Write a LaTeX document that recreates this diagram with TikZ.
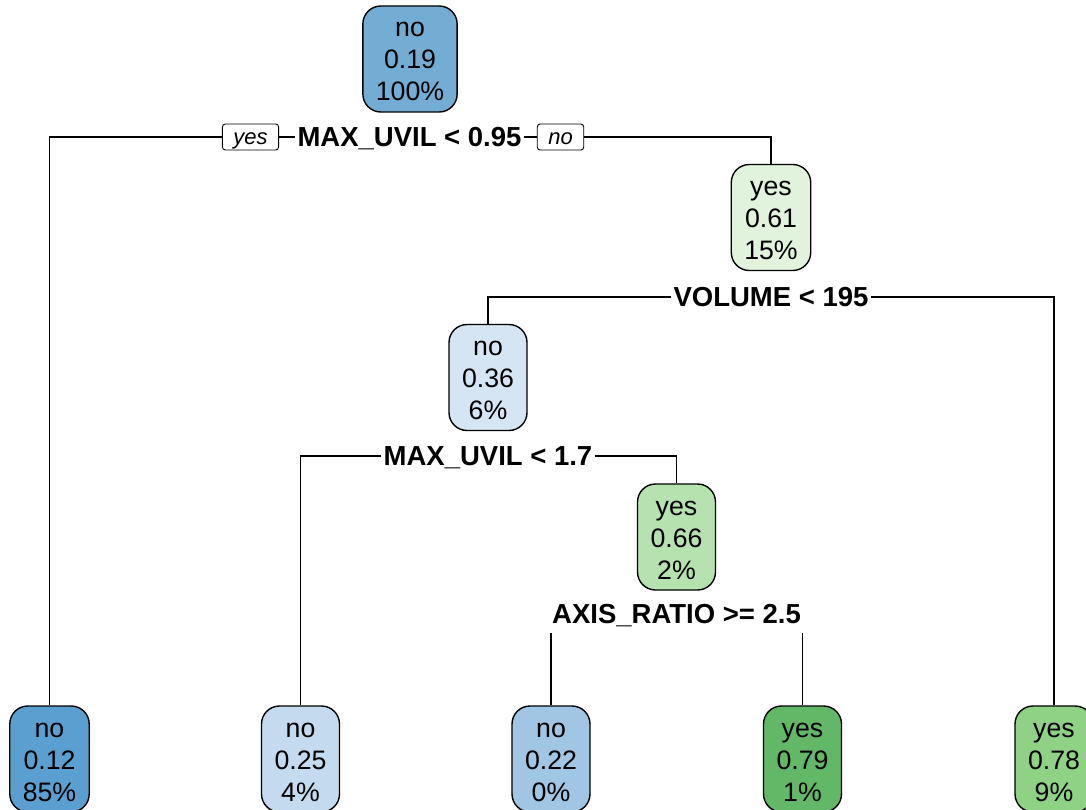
\documentclass[tikz,border=0pt]{standalone}
\usepackage{fontspec}
\setmainfont{Liberation Sans}
\definecolor{cRoot}{HTML}{74ADD4}
\definecolor{cLa}{HTML}{5A9FCF}
\definecolor{cLb}{HTML}{C4DAEE}
\definecolor{cLc}{HTML}{A0C6E4}
\definecolor{cLd}{HTML}{62B866}
\definecolor{cLe}{HTML}{8FD185}
\definecolor{cNa}{HTML}{E1F3DC}
\definecolor{cNb}{HTML}{D6E5F4}
\definecolor{cNc}{HTML}{B6E2AF}
\newcommand\mystr{\rule[-6pt]{0pt}{32pt}}
\newcommand\tlines[3]{\mystr#1\\\mystr#2\\\mystr#3}
\tikzset{
  treebox/.style={draw=black, line width=1.4pt, rounded corners=18pt, align=center,
    inner xsep=13pt, inner ysep=5pt, minimum width=78pt, minimum height=106pt,
    font=\fontsize{26.7}{32}\selectfont},
  splitlab/.style={font=\fontsize{27.5}{30}\selectfont\bfseries, inner xsep=2pt, inner ysep=0pt,
    text height=19.5pt, text depth=0pt},
  yn/.style={draw=black, line width=0.9pt, rounded corners=3pt, font=\fontsize{22}{24}\selectfont\itshape,
    inner xsep=11pt, inner ysep=0pt, minimum height=26pt, text height=15.5pt, text depth=0pt},
  conn/.style={line width=1.2pt, draw=black}
}
\begin{document}
\begin{tikzpicture}[x=1pt,y=-1pt]
\useasboundingbox (0,0) rectangle (1086,810);
\clip (0,0) rectangle (1086,810);
% inner nodes
\node[treebox, fill=cRoot] (root) at (410,59) {\tlines{no}{0.19}{100\%}};
\node[treebox, fill=cNa] (n2) at (771,217.5) {\tlines{yes}{0.61}{15\%}};
\node[treebox, fill=cNb] (n3) at (488,377.5) {\tlines{no}{0.36}{6\%}};
\node[treebox, fill=cNc] (n4) at (676.5,537) {\tlines{yes}{0.66}{2\%}};
% leaves
\node[treebox, fill=cLa] (l1) at (49.5,759) {\tlines{no}{0.12}{85\%}};
\node[treebox, fill=cLb] (l2) at (300.5,759) {\tlines{no}{0.25}{4\%}};
\node[treebox, fill=cLc] (l3) at (551,759) {\tlines{no}{0.22}{0\%}};
\node[treebox, fill=cLd] (l4) at (802.5,759) {\tlines{yes}{0.79}{1\%}};
\node[treebox, fill=cLe] (l5) at (1054,759) {\tlines{yes}{0.78}{9\%}};
% split labels
\node[splitlab] (s1) at (409.5,137) {MAX\_UVIL < 0.95};
\node[splitlab] (s2) at (771,297) {VOLUME < 195};
\node[splitlab] (s3) at (488,456) {MAX\_UVIL < 1.7};
\node[splitlab] (s4) at (676.5,614) {AXIS\_RATIO >= 2.5};
\node[yn] (yes) at (250.5,137) {yes};
\node[yn] (no) at (560.5,137) {no};
% connectors
\draw[conn] (yes.west) -| (l1.north);
\draw[conn] (yes.east) -- (s1.west);
\draw[conn] (s1.east) -- (no.west);
\draw[conn] (no.east) -| (n2.north);
\draw[conn] (s2.west) -| (n3.north);
\draw[conn] (s2.east) -| (l5.north);
\draw[conn] (s3.west) -| (l2.north);
\draw[conn] (s3.east) -| (n4.north);
\coordinate (s4a) at ([yshift=-9pt]s4.south -| l3.north);
\coordinate (s4b) at ([yshift=-9pt]s4.south -| l4.north);
\draw[conn] (s4a) -- (l3.north);
\draw[conn] (s4b) -- (l4.north);
\end{tikzpicture}
\end{document}
